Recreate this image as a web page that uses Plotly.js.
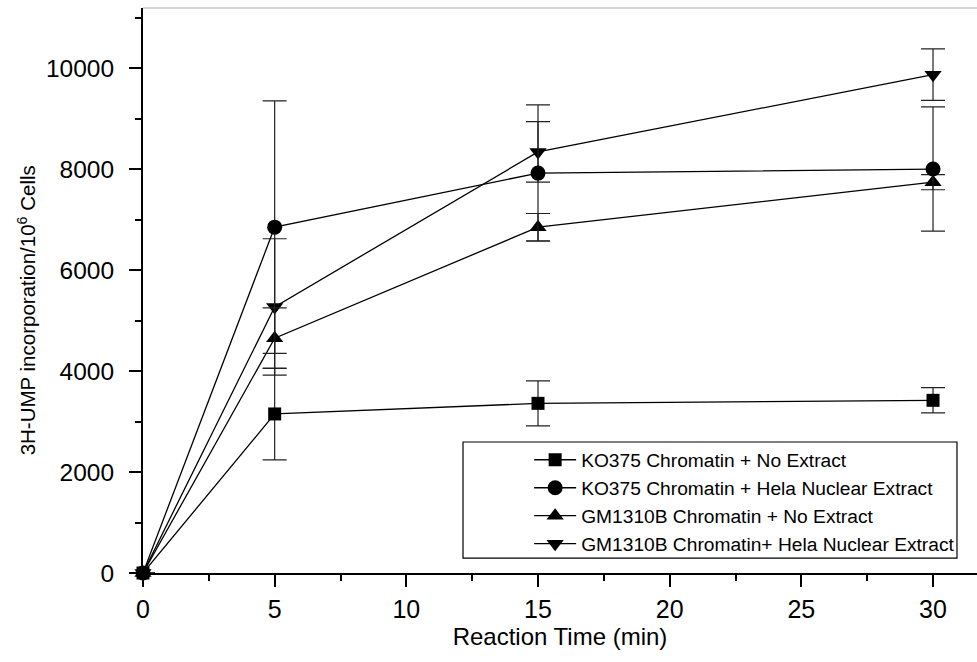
<!DOCTYPE html>
<html>
<head>
<meta charset="utf-8">
<script src="https://cdn.plot.ly/plotly-3.0.1.min.js"></script>
<style>html,body{margin:0;padding:0;background:#fff;}#chart{width:977px;height:662px;}</style>
</head>
<body>
<div id="chart"></div>
<script>
const times = [0, 5, 15, 30];
const koNoExtract = [0, 3150, 3360, 3420];
const koNoExtractErr = [0, 910, 445, 250];
const koHela = [0, 6850, 7920, 8000];
const koHelaErr = [0, 2500, 1350, 1230];
const gmNoExtract = [0, 4650, 6850, 7740];
const gmNoExtractErr = [0, 600, 270, 150];
const gmHela = [0, 5270, 8340, 9870];
const gmHelaErr = [0, 1350, 600, 510];
const seriesNames = [
  "KO375 Chromatin + No Extract",
  "KO375 Chromatin + Hela Nuclear Extract",
  "GM1310B Chromatin + No Extract",
  "GM1310B Chromatin+ Hela Nuclear Extract"
];
const xTitle = 'Reaction Time (min)';
const yTitle = '3H-UMP incorporation/10<sup>6</sup> Cells';

function mk(y, err, name, symbol, size, rank) {
  return {
    x: times, y: y, name: name, type: 'scatter', mode: 'lines+markers',
    line: {color: '#000', width: 1.3},
    marker: {symbol: symbol, size: size, color: '#000'},
    error_y: {type: 'data', array: err, visible: true, color: '#222', thickness: 1.2, width: 12},
    cliponaxis: false, legendrank: rank
  };
}
const data = [
  mk(gmHela, gmHelaErr, seriesNames[3], 'triangle-down', 15, 4),
  mk(gmNoExtract, gmNoExtractErr, seriesNames[2], 'triangle-up', 15, 3),
  mk(koHela, koHelaErr, seriesNames[1], 'circle', 15, 2),
  mk(koNoExtract, koNoExtractErr, seriesNames[0], 'square', 13, 1)
];

const layout = {
  width: 977, height: 662,
  margin: {l: 143, r: 0, t: 8, b: 89},
  paper_bgcolor: '#fff', plot_bgcolor: '#fff',
  font: {family: 'Liberation Sans, Arial, sans-serif', color: '#000', size: 19},
  showlegend: true,
  legend: {
    x: 0.463, y: 0.234, xanchor: 'left', yanchor: 'top',
    bgcolor: 'rgba(0,0,0,0)', borderwidth: 0,
    font: {size: 19.2}, itemwidth: 42
  },
  xaxis: {
    range: [0, 31.67], dtick: 5, tick0: 0,
    showgrid: false, zeroline: false,
    showline: true, linecolor: '#000', linewidth: 2,
    ticks: 'outside', ticklen: 12, tickwidth: 2, tickcolor: '#000',
    minor: {dtick: 2.5, ticks: 'outside', ticklen: 6, tickwidth: 2, tickcolor: '#000', showgrid: false},
    tickfont: {size: 25}, ticklabelstandoff: 1,
    title: {text: xTitle, font: {size: 24}, standoff: 6}
  },
  yaxis: {
    range: [0, 11190], dtick: 2000, tick0: 0, tickformat: 'd',
    showgrid: false, zeroline: false,
    showline: true, linecolor: '#000', linewidth: 2,
    ticks: 'outside', ticklen: 12, tickwidth: 2, tickcolor: '#000',
    minor: {dtick: 1000, ticks: 'outside', ticklen: 6, tickwidth: 2, tickcolor: '#000', showgrid: false},
    tickfont: {size: 24.5}, ticklabelstandoff: 10
  },
  annotations: [
    {text: yTitle, xref: 'paper', yref: 'paper', x: -0.139, y: 0.465,
     xanchor: 'center', yanchor: 'middle', textangle: -90, showarrow: false,
     font: {size: 20.5, color: '#000'}}
  ],
  shapes: [
    {type: 'rect', xref: 'paper', yref: 'paper', x0: 0.3837, x1: 0.976, y0: 0.0265, y1: 0.2319,
     line: {color: '#000', width: 1.2}, fillcolor: 'rgba(0,0,0,0)'},
    {type: 'line', xref: 'paper', yref: 'paper', x0: 0, x1: 1, y0: 1, y1: 1,
     line: {color: '#aaa', width: 1}}
  ]
};
Plotly.newPlot('chart', data, layout, {displayModeBar: false, responsive: false});
</script>
</body>
</html>
